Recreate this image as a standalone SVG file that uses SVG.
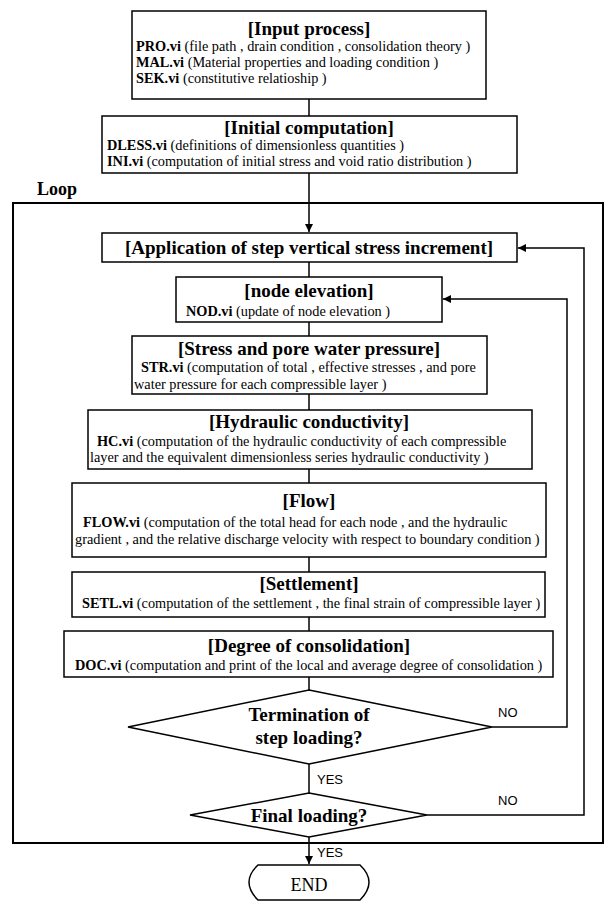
<svg xmlns="http://www.w3.org/2000/svg" width="606" height="901" viewBox="0 0 606 901">
<style>
.box{fill:#fff;stroke:#000;stroke-width:1.5}
.ln{fill:none;stroke:#000;stroke-width:1.5}
.t{font-family:"Liberation Serif","Times New Roman",serif;font-weight:bold;font-size:19px;text-anchor:middle}
.b{font-family:"Liberation Serif","Times New Roman",serif;font-size:14.3px}
.b tspan.k{font-weight:bold}
.lab{font-family:"Liberation Sans",Arial,sans-serif;font-size:13px}
</style>
<defs>
<marker id="ah" viewBox="0 0 10 10" refX="10" refY="5" markerWidth="8" markerHeight="8" markerUnits="userSpaceOnUse" orient="auto">
<path d="M0,0 L10,5 L0,10 z" fill="#000"/>
</marker>
</defs>
<rect x="0" y="0" width="606" height="901" fill="#fff"/>
<g id="loop">
<rect x="13" y="203" width="590" height="640" fill="none" stroke="#000" stroke-width="2"/>
<text x="37" y="195" font-family="Liberation Serif, serif" font-weight="bold" font-size="18">Loop</text>
</g>
<g id="connectors">
<line class="ln" x1="309" y1="99" x2="309" y2="116"/>
<line class="ln" x1="309" y1="173" x2="309" y2="232" marker-end="url(#ah)"/>
<line class="ln" x1="309" y1="262" x2="309" y2="277"/>
<line class="ln" x1="309" y1="322" x2="309" y2="336"/>
<line class="ln" x1="309" y1="394" x2="309" y2="410"/>
<line class="ln" x1="309" y1="469" x2="309" y2="483"/>
<line class="ln" x1="309" y1="557" x2="309" y2="572"/>
<line class="ln" x1="309" y1="617" x2="309" y2="631"/>
<line class="ln" x1="309" y1="677" x2="309" y2="690"/>
<line class="ln" x1="309" y1="764" x2="309" y2="793"/>
<line class="ln" x1="309" y1="837" x2="309" y2="864" marker-end="url(#ah)"/>
<polyline class="ln" points="492,727 567,727 567,299 443,299" marker-end="url(#ah)"/>
<polyline class="ln" points="427,815 584,815 584,248 518,248" marker-end="url(#ah)"/>
<text class="lab" x="498" y="717">NO</text>
<text class="lab" x="498" y="805">NO</text>
<text class="lab" x="317" y="784">YES</text>
<text class="lab" x="317" y="857">YES</text>
</g>
<g id="input">
<rect class="box" x="132" y="11" width="354" height="88"/>
<text class="t" x="309" y="35">[Input process]</text>
<text class="b" x="136" y="51"><tspan class="k">PRO.vi</tspan> (file path , drain condition , consolidation theory )</text>
<text class="b" x="136" y="67"><tspan class="k">MAL.vi</tspan> (Material properties and loading condition  )</text>
<text class="b" x="136" y="83"><tspan class="k">SEK.vi</tspan> (constitutive relatioship )</text>
</g>
<g id="initial">
<rect class="box" x="102" y="116" width="415" height="57"/>
<text class="t" x="309" y="134">[Initial computation]</text>
<text class="b" x="107" y="150"><tspan class="k">DLESS.vi</tspan> (definitions of dimensionless quantities )</text>
<text class="b" x="107" y="166"><tspan class="k">INI.vi</tspan> (computation of initial stress and void ratio distribution   )</text>
</g>
<g id="application">
<rect class="box" x="102" y="233" width="415" height="29"/>
<text class="t" x="309" y="254">[Application of step vertical stress increment]</text>
</g>
<g id="node">
<rect class="box" x="176" y="277" width="266" height="45"/>
<text class="t" x="309" y="297">[node elevation]</text>
<text class="b" x="186" y="316"><tspan class="k">NOD.vi</tspan> (update of node elevation )</text>
</g>
<g id="stress">
<rect class="box" x="132" y="336" width="355" height="58"/>
<text class="t" x="309" y="355">[Stress and pore water pressure]</text>
<text class="b" x="141" y="372"><tspan class="k">STR.vi</tspan> (computation of total , effective stresses ,  and pore</text>
<text class="b" x="134" y="389">water pressure for each compressible layer  )</text>
</g>
<g id="hydraulic">
<rect class="box" x="88" y="410" width="444" height="59"/>
<text class="t" x="309" y="428">[Hydraulic conductivity]</text>
<text class="b" x="97" y="446"><tspan class="k">HC.vi</tspan> (computation of the hydraulic conductivity of each compressible</text>
<text class="b" x="90" y="462">layer and the equivalent dimensionless series hydraulic conductivity    )</text>
</g>
<g id="flow">
<rect class="box" x="72" y="483" width="474" height="74"/>
<text class="t" x="309" y="507">[Flow]</text>
<text class="b" x="83" y="527"><tspan class="k">FLOW.vi</tspan> (computation of the total head for each node , and the hydraulic</text>
<text class="b" x="75" y="544">gradient , and the relative discharge velocity with respect to boundary condition   )</text>
</g>
<g id="settlement">
<rect class="box" x="72" y="572" width="473" height="45"/>
<text class="t" x="309" y="590">[Settlement]</text>
<text class="b" x="82" y="608"><tspan class="k">SETL.vi</tspan> (computation of the settlement , the final strain of compressible layer )</text>
</g>
<g id="degree">
<rect class="box" x="64" y="631" width="489" height="46"/>
<text class="t" x="309" y="652">[Degree of consolidation]</text>
<text class="b" x="75" y="670"><tspan class="k">DOC.vi</tspan> (computation and print of the local and average degree of consolidation   )</text>
</g>
<g id="termination">
<polygon class="box" points="309,690 492,727 309,764 128,727"/>
<text class="t" x="309" y="721">Termination of</text>
<text class="t" x="309" y="744">step loading?</text>
</g>
<g id="final">
<polygon class="box" points="309,793 427,815 309,837 190,815"/>
<text class="t" x="309" y="822">Final loading?</text>
</g>
<g id="end">
<path class="box" d="M258,865 L360,865 Q378,882 360,900 L258,900 Q240,882 258,865 Z"/>
<text x="309" y="891" font-family="Liberation Serif, serif" font-size="18" text-anchor="middle">END</text>
</g>
</svg>
